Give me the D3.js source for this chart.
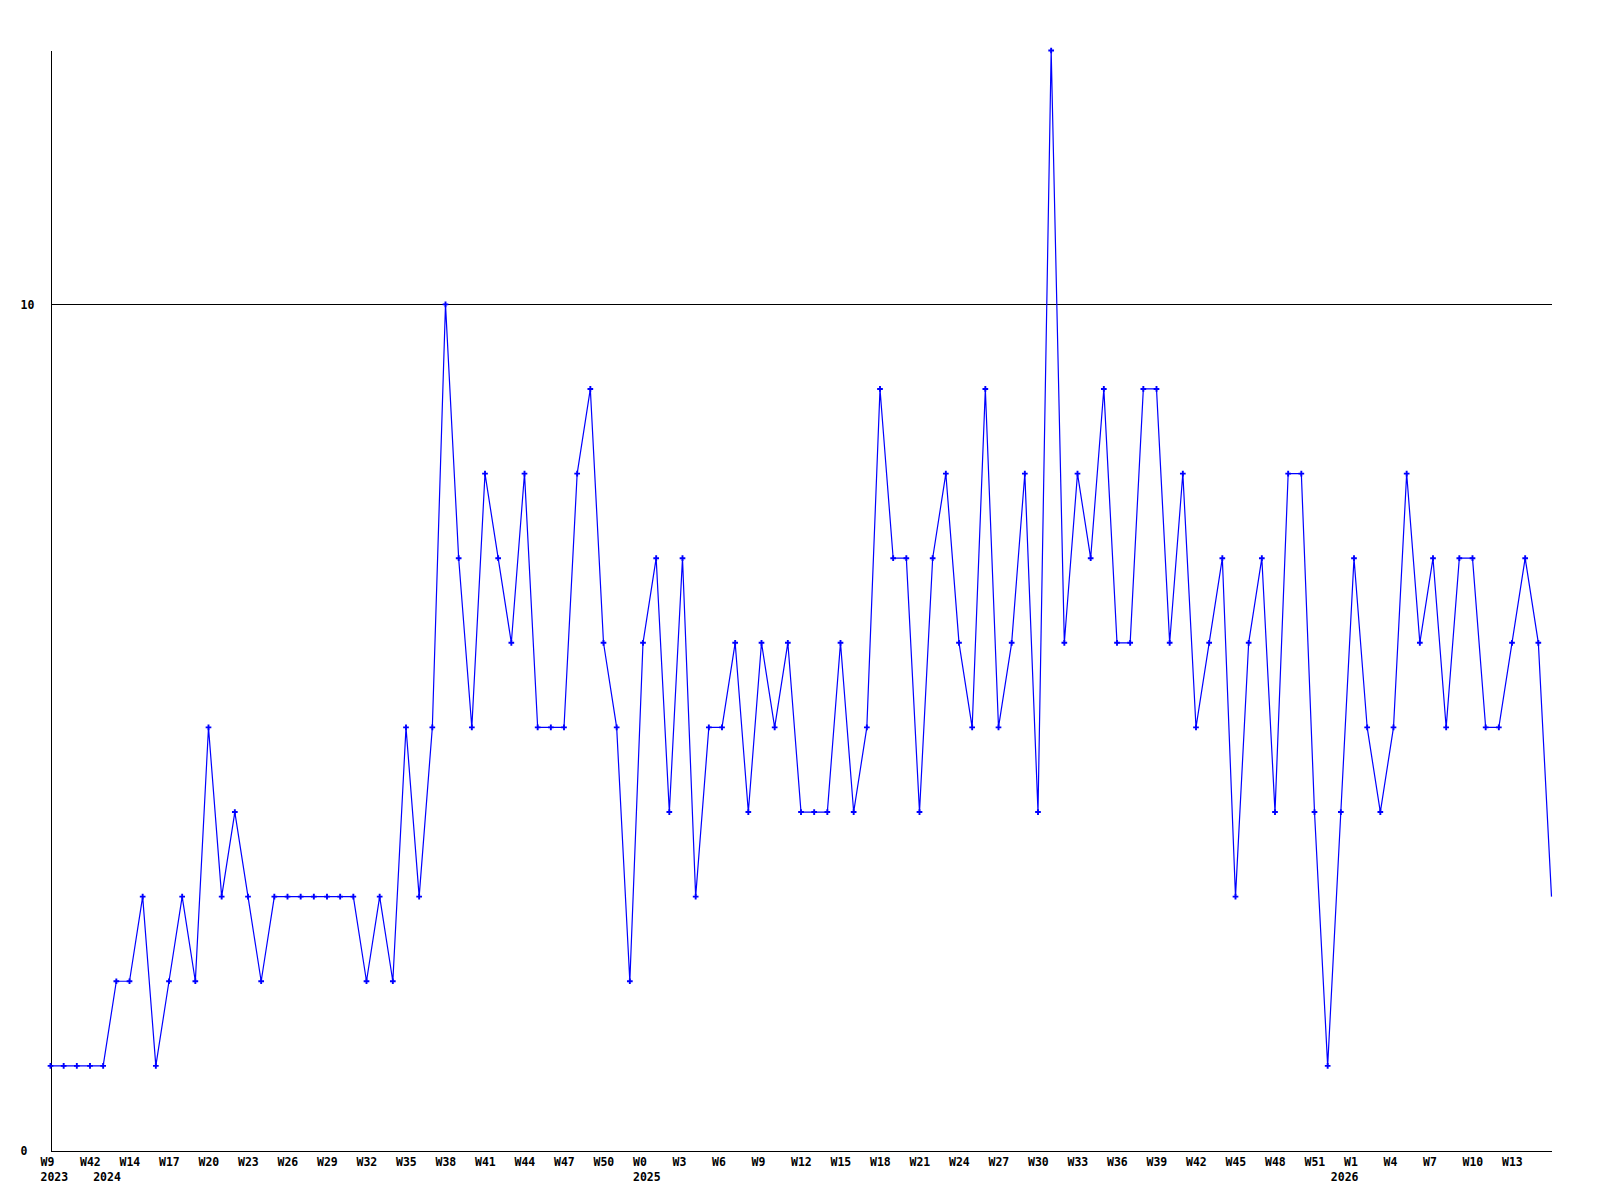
<!DOCTYPE html>
<html>
<head>
<meta charset="utf-8">
<script src="https://cdn.jsdelivr.net/npm/d3@7"></script>
<style>
body { margin: 0; background: #fff; }
text { font-family: "DejaVu Sans Mono", monospace; font-weight: bold; font-size: 11.5px; }
</style>
</head>
<body>
<svg id="chart"></svg>
<script>

// weekly values, one per point
var values = [1,1,1,1,1, 2,2, 3, 1, 2, 3, 2, 5, 3, 4, 3, 2,
  3,3,3,3,3,3,3, 2, 3, 2, 5, 3, 5, 10, 7, 5, 8, 7, 6, 8, 5, 5, 5, 8, 9, 6, 5, 2,
  6, 7, 4, 7, 3, 5, 5, 6, 4, 6, 5, 6, 4, 4, 4, 6, 4, 5, 9, 7, 7, 4, 7, 8, 6, 5, 9,
  5, 6, 8, 4, 13, 6, 8, 7, 9, 6, 6, 9, 9, 6, 8, 5, 6, 7, 3, 6, 7, 4, 8, 8, 4, 1,
  4, 7, 5, 4, 5, 8, 6, 7, 5, 7, 7, 5, 5, 6, 7, 6, 3];

// week labels, shown on every third point
var weekTicks = ["W9","W42","W14","W17","W20","W23","W26","W29","W32","W35","W38",
  "W41","W44","W47","W50","W0","W3","W6","W9","W12","W15","W18","W21","W24","W27",
  "W30","W33","W36","W39","W42","W45","W48","W51","W1","W4","W7","W10","W13"];

// year labels and the point they start at
var yearIndex = [0, 4, 45, 98];
var yearNames = ["2023", "2024", "2025", "2026"];

var yTicks = [0, 10];
var yMax = 13;

function drawChart(svg, data){

    // set the dimensions and margins of the graph
    var margin = {top: 50, right: 49, bottom: 50, left: 50},
        width = 1600 - margin.left - margin.right,
        height = 1200 - margin.top - margin.bottom;

    var x = d3.scaleLinear().domain([0, data.length - 1]).range([0, width]);
    var y = d3.scaleLinear().domain([0, yMax]).range([height, 0]);

    var svg = d3.select(svg)
        .attr("width", 1600)
        .attr("height", 1200)
        .style("background", "#fff")
    .append("g")
        .attr("transform", "translate(" + (margin.left + 0.5) + "," + (margin.top + 0.5) + ")");

    // Y axis with the gridline at 10
    var yAxis = svg.append("g")
        .attr("shape-rendering", "crispEdges")
        .call(d3.axisLeft(y).tickValues(yTicks).tickSize(-width).tickSizeOuter(0));
    yAxis.selectAll("text")
        .attr("x", -30)
        .style("text-anchor", "start");

    // X axis: week labels
    var weekIdx = d3.range(0, data.length, 3);
    var xAxis = svg.append("g")
        .attr("shape-rendering", "crispEdges")
        .attr("transform", "translate(0," + height + ")")
        .call(d3.axisBottom(x).tickValues(weekIdx).tickSize(0)
            .tickFormat(function(d, i) { return weekTicks[i]; }));
    xAxis.selectAll("text")
        .attr("y", 15.5)
        .attr("dy", null)
        .attr("dx", -10.5)
        .style("text-anchor", "start");

    // year labels under the weeks
    svg.append("g")
        .attr("transform", "translate(0," + height + ")")
        .call(d3.axisBottom(x).tickValues(yearIndex).tickSize(0)
            .tickFormat(function(d, i) { return yearNames[i]; }))
        .call(function(g) { g.select(".domain").remove(); })
      .selectAll("text")
        .attr("y", 30.5)
        .attr("dy", null)
        .attr("dx", -10.5)
        .style("text-anchor", "start");

    // the line
    var valueline = d3.line()
        .x(function(d, i) { return x(i); })
        .y(function(d) { return y(d); });

    svg.append("path")
        .datum(data)
        .attr("fill", "none")
        .attr("stroke", "#0000ff")
        .attr("stroke-width", 1.2)
        .attr("d", valueline);

    // point markers (none on the last point)
    svg.selectAll(".pt")
        .data(data.slice(0, data.length - 1))
      .enter().append("path")
        .attr("class", "pt")
        .attr("fill", "#0000ff")
        .attr("transform", function(d, i) { return "translate(" + x(i) + "," + y(d) + ")"; })
        .attr("d", d3.symbol().type(d3.symbolCross).size(18));
}

drawChart(document.querySelector('#chart'), values);
</script>
</body>
</html>
